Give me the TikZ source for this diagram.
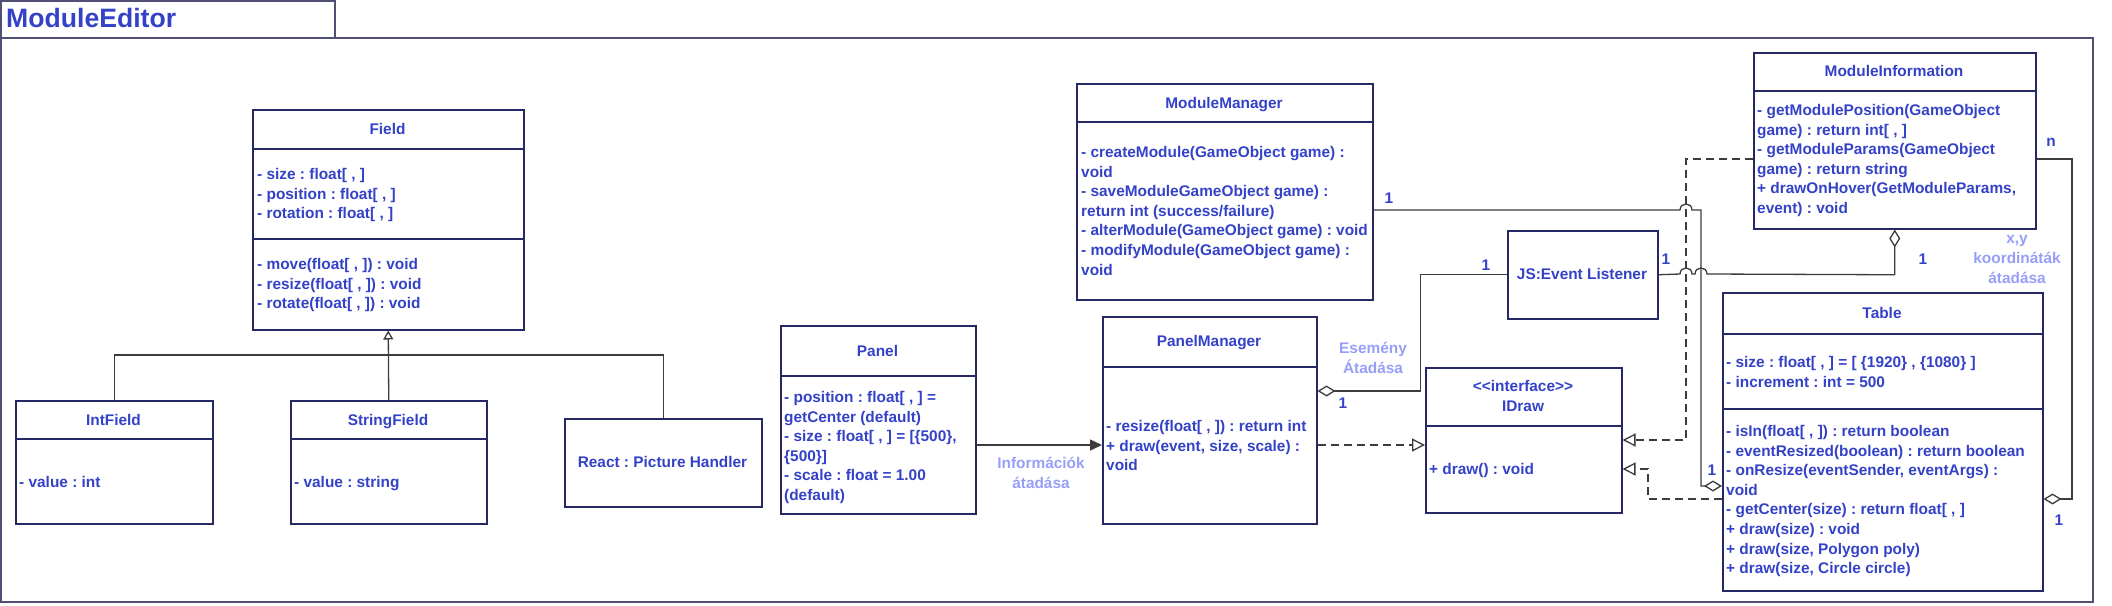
\documentclass[tikz,border=0pt]{standalone}
\usepackage{fontspec}
\setmainfont{Liberation Sans}
\usetikzlibrary{arrows.meta,calc}
\frenchspacing
\definecolor{txtc}{RGB}{52,66,200}
\definecolor{lblc}{RGB}{150,158,248}
\definecolor{boxc}{RGB}{38,40,100}
\definecolor{framec}{RGB}{80,80,118}
\definecolor{linec}{RGB}{60,60,60}
\tikzset{
  x=1pt,y=-1pt,
  cls/.style={draw=boxc,line width=1.5pt,fill=white,inner sep=0pt,anchor=north west},
  div/.style={draw=boxc,line width=1.5pt},
  txt/.style={text=txtc,font=\fontsize{15.4}{19.7}\selectfont\bfseries\frenchspacing,inner sep=0pt,anchor=base west},
  ttl/.style={txt,anchor=base},
  mult/.style={txt,anchor=center},
  lbl/.style={text=lblc,font=\fontsize{15.4}{19.7}\selectfont\bfseries,inner sep=0pt,align=center},
  conn/.style={draw=linec,line width=1.3pt},
  realize/.style={conn,dash pattern=on 8pt off 5pt},
  opentip/.tip={Triangle[length=13pt,width=13pt,fill=white]},
  smalltip/.tip={Triangle[length=9pt,width=10pt,fill=white]},
  filltip/.tip={Triangle[length=12pt,width=11pt]},
  diatip/.tip={Diamond[length=18pt,width=11pt,fill=white]},
}
\newcommand\cl[4]{\foreach \linetext [count=\i] in {#4}{\node[txt] (#1\i) at (#2,{#3+5.5+(\i-1)*19.6}) {\linetext};}}
\begin{document}
\begin{tikzpicture}
\useasboundingbox (0,0) rectangle (2112,605);
% frame
\draw[framec,line width=1.5pt] (0.75,0.75) rectangle (335,38);
\draw[framec,line width=1.5pt] (0.75,38) rectangle (2093,602);
\node[txt,font=\fontsize{26.6}{30}\selectfont\bfseries] (title) at (6,27.5) {ModuleEditor};

% Field
\node[cls,minimum width=271pt,minimum height=220pt] (field) at (252,109) {};
\draw[div] (field.north west) ++(0,40) -- ++(271,0);
\draw[div] (field.north west) ++(0,130) -- ++(271,0);
\node[ttl] (fieldt) at (387.5,134.5) {Field};
\cl{fa}{257}{174}{{- size : float[ , ]},{- position : float[ , ]},{- rotation : float[ , ]}}
\cl{fm}{257}{264}{{- move(float[ , ]) : void},{- resize(float[ , ]) : void},{- rotate(float[ , ]) : void}}

% IntField
\node[cls,minimum width=197pt,minimum height=123pt] (intf) at (15,400) {};
\draw[div] (intf.north west) ++(0,39) -- ++(197,0);
\node[ttl] (intft) at (113.5,425.5) {IntField};
\cl{ia}{19}{482}{{- value : int}}

% StringField
\node[cls,minimum width=196pt,minimum height=123pt] (strf) at (290,400) {};
\draw[div] (strf.north west) ++(0,39) -- ++(196,0);
\node[ttl] (strft) at (388,425.5) {StringField};
\cl{sa}{294}{482}{{- value : string}}

% React
\node[cls,minimum width=197pt,minimum height=88pt] (react) at (564,418) {};
\node[ttl] (reactt) at (662.5,467.5) {React : Picture Handler};

% inheritance
\coordinate (hbar) at (0,355);
\draw[conn] (intf.north) -- (intf.north |- hbar) -- (react.north |- hbar) -- (react.north);
\draw[conn,-smalltip] (strf.north) -- (field.south);

% Panel
\node[cls,minimum width=195pt,minimum height=188pt] (panel) at (780,325) {};
\draw[div] (panel.north west) ++(0,51) -- ++(195,0);
\node[ttl] (panelt) at (877.5,356.5) {Panel};
\cl{pa}{784}{397}{{- position : float[ , ] =},{getCenter (default)},{- size : float[ , ] = [\{500\},},{\{500\}]},{- scale : float = 1.00},{(default)}}

% PanelManager
\node[cls,minimum width=214pt,minimum height=207pt] (pm) at (1102,316) {};
\draw[div] (pm.north west) ++(0,51) -- ++(214,0);
\node[ttl] (pmt) at (1209,346.5) {PanelManager};
\cl{pmm}{1106}{426}{{- resize(float[ , ]) : return int},{+ draw(event, size, scale) :},{void}}

% ModuleManager
\node[cls,minimum width=296pt,minimum height=216pt] (mm) at (1076,83) {};
\draw[div] (mm.north west) ++(0,39) -- ++(296,0);
\node[ttl] (mmt) at (1224,108.5) {ModuleManager};
\cl{mmm}{1081}{152}{{- createModule(GameObject game) :},{void},{- saveModuleGameObject game) :},{return int (success/failure)},{- alterModule(GameObject game) : void},{- modifyModule(GameObject game) :},{void}}

% JS Event Listener
\node[cls,minimum width=150pt,minimum height=88pt] (js) at (1507,230) {};
\node[ttl] (jst) at (1582,279.5) {JS:Event Listener};

% IDraw
\node[cls,minimum width=196pt,minimum height=145pt] (idraw) at (1425,367) {};
\draw[div] (idraw.north west) ++(0,59) -- ++(196,0);
\node[ttl] (idrawt1) at (1523,391.5) {<\kern0pt<interface>\kern0pt>};
\node[ttl] (idrawt2) at (1523,411.5) {IDraw};
\cl{idm}{1429}{469}{{+ draw() : void}}

% ModuleInformation
\node[cls,minimum width=282pt,minimum height=176pt] (mi) at (1753,52) {};
\draw[div] (mi.north west) ++(0,39) -- ++(282,0);
\node[ttl] (mit) at (1894,76.5) {ModuleInformation};
\cl{mim}{1757}{110}{{- getModulePosition(GameObject},{game) : return int[ , ]},{- getModuleParams(GameObject},{game) : return string},{+ drawOnHover(GetModuleParams,},{event) : void}}

% Table
\node[cls,minimum width=320pt,minimum height=298pt] (table) at (1722,292) {};
\draw[div] (table.north west) ++(0,42) -- ++(320,0);
\draw[div] (table.north west) ++(0,117) -- ++(320,0);
\node[ttl] (tablet) at (1882,318.5) {Table};
\cl{ta}{1726}{362}{{- size : float[ , ] = [ \{1920\} , \{1080\} ]},{- increment : int = 500}}
\cl{tm}{1726}{431}{{- isIn(float[ , ]) : return boolean},{- eventResized(boolean) : return boolean},{- onResize(eventSender, eventArgs) :},{void},{- getCenter(size) : return float[ , ]},{+ draw(size) : void},{+ draw(size, Polygon poly)},{+ draw(size, Circle circle)}}

% helper levels
\coordinate (y445) at (0,445);
\coordinate (y391) at (0,391);
\coordinate (y210) at (0,210);
\coordinate (y486) at (0,486);
\coordinate (y159) at (0,159);
\coordinate (y499) at (0,499);
\coordinate (y440) at (0,440);
\coordinate (y469) at (0,469);

% Panel -> PanelManager
\draw[conn,-filltip] (panel.east |- y445) -- (pm.west |- y445);
\node[lbl] (lbinfo) at (1041,473) {Információk\\átadása};
% PanelManager -> IDraw
\draw[realize,-opentip] (pm.east |- y445) -- (idraw.west |- y445);
% JS -> PanelManager
\draw[conn,diatip-] (pm.east |- y391) -- ++(103,0) |- (js.west);
\node[lbl] (lbev) at (1373,358) {Esemény\\Átadása};
\node[mult] (m1) at (1486,265) {1};
\node[mult] (m2) at (1343,403) {1};
% ModuleInformation -> IDraw
\draw[realize,-opentip] (mi.west |- y159) -- (1686,159) -- (1686,440) -- (idraw.east |- y440);
% Table -> IDraw
\draw[realize,-opentip] (table.west |- y499) -- (1648,499) -- (1648,469) -- (idraw.east |- y469);
% ModuleManager -> Table
\draw[conn,-diatip] (mm.east |- y210) -- (1680,210) .. controls (1680,202) and (1692,202) .. (1692,210) -- (1701,210) -- (1701,486) -- (table.west |- y486);
\node[mult] (m3) at (1389,198) {1};
\node[mult] (m4) at (1712,470) {1};
% JS -> ModuleInformation
\draw[conn,diatip-] (mi.south) -- (mi.south |- js.east) -- (1707,274) .. controls (1707,266) and (1695,266) .. (1695,274) -- (1692,274) .. controls (1692,266) and (1680,266) .. (1680,274) -- (js.east);
\node[mult] (m5) at (1666,259) {1};
\node[mult] (m6) at (1923,259) {1};
% ModuleInformation -> Table
\draw[conn,-diatip] (mi.east |- y159) -- (2072,159) -- (2072,499) -- (table.east |- y499);
\node[mult] (m7) at (2051,142) {n};
\node[mult] (m8) at (2059,520) {1};
\node[lbl] (lbxy) at (2017,259.5) {x,y\\koordináták\\átadása};
\end{tikzpicture}
\end{document}
